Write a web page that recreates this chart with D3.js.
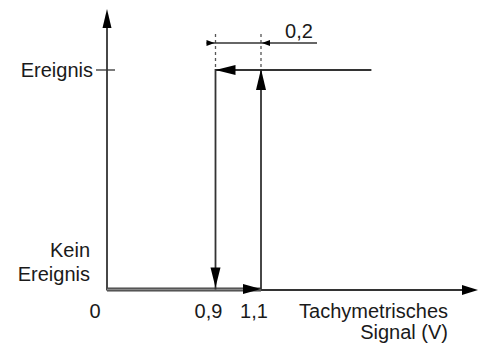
<!DOCTYPE html>
<html>
<head>
    <script src="https://d3js.org/d3.v7.min.js"></script>
    <title>Hysterese</title>
</head>
<style>
    body { margin: 0; background: white; }
    text { font-family: 'Liberation Sans', Arial, sans-serif; font-size: 20px; fill: #1a1a1a; }
</style>
<body>
<div id="chart"></div>
<script>
  // DATA
  var thresholds = [0.9, 1.1];          // switch-off / switch-on
  var xTickValues = [0, 0.9, 1.1];
  var xTickLabels = ["0", "0,9", "1,1"];
  var stateLabels = ["Kein Ereignis", "Ereignis"];
  var hystLabel = "0,2";
  var xTitle = ["Tachymetrisches", "Signal (V)"];

  // rising path (0 -> event at 1,1) and falling path (event -> off at 0,9)
  var risingPath = [
      {x: 0, s: 0},
      {x: 1.1, s: 0},
      {x: 1.1, s: 1}
  ];
  var fallingPath = [
      {x: 1.58, s: 1},
      {x: 0.9, s: 1},
      {x: 0.9, s: 0}
  ];

  var W = 479, H = 344;
  var svg = d3.select("#chart").append("svg")
      .attr("width", W)
      .attr("height", H);

  // schematic axis: piecewise scale
  var x = d3.scaleLinear()
      .domain([0, 0.9, 1.1, 2.0])
      .range([107, 215.5, 261, 468]);
  var y = d3.scaleLinear()
      .domain([0, 1])
      .range([289.5, 70]);

  var dark = "#333";

  // arrowhead helper: tip at (tx,ty), direction angle in deg
  function arrowHead(tx, ty, ang, len, half, fill) {
      var a = ang * Math.PI / 180;
      var bx = tx - len * Math.cos(a), by = ty - len * Math.sin(a);
      var px = -Math.sin(a) * half, py = Math.cos(a) * half;
      svg.append("path")
          .attr("d", "M" + tx + "," + ty + "L" + (bx + px) + "," + (by + py) +
                "L" + (bx - px) + "," + (by - py) + "Z")
          .attr("fill", fill || "#000");
  }

  var line = d3.line()
      .x(function(d) { return x(d.x); })
      .y(function(d) { return y(d.s); });

  //AXES
  svg.append("line")
      .attr("x1", x(0)).attr("y1", y(0) + 1)
      .attr("x2", x(0)).attr("y2", 20)
      .attr("stroke", dark).attr("stroke-width", 1.8);
  arrowHead(x(0), 9, -90, 19, 4.5);

  svg.append("line")
      .attr("x1", x(0)).attr("y1", y(0) + 0.5)
      .attr("x2", 468).attr("y2", y(0) + 0.5)
      .attr("stroke", dark).attr("stroke-width", 1.8);
  arrowHead(478, y(0) + 0.5, 0, 16, 5);

  // tick at "Ereignis"
  svg.append("line")
      .attr("x1", x(0) - 11).attr("x2", x(0) + 8)
      .attr("y1", y(1)).attr("y2", y(1))
      .attr("stroke", dark).attr("stroke-width", 1.3);

  //HYSTERESIS PATHS
  // thick bottom segment of rising path
  svg.append("path")
      .attr("d", line(risingPath.slice(0, 2)))
      .attr("fill", "none").attr("stroke", "#444").attr("stroke-width", 4);
  svg.append("path")
      .attr("d", line(risingPath.slice(0, 2)))
      .attr("fill", "none").attr("stroke", "#888").attr("stroke-width", 1.5);
  svg.append("path")
      .attr("d", line(risingPath.slice(1)))
      .attr("fill", "none").attr("stroke", dark).attr("stroke-width", 1.8);
  svg.append("path")
      .attr("d", line(fallingPath))
      .attr("fill", "none").attr("stroke", dark).attr("stroke-width", 1.8);

  arrowHead(x(1.1), y(0) - 0.5, 0, 18, 5);
  arrowHead(x(1.1), y(1) - 1, -90, 21, 5);
  arrowHead(x(0.9), y(1), 180, 20, 5);
  arrowHead(x(0.9), y(0) - 2, 90, 20, 5);

  //DIMENSION "0,2"
  thresholds.forEach(function(t) {
      svg.append("line")
          .attr("x1", x(t)).attr("x2", x(t))
          .attr("y1", 34).attr("y2", y(1) - 2)
          .attr("stroke", "#555").attr("stroke-width", 1.3)
          .attr("stroke-dasharray", "3,3");
  });
  var dimY = 43;
  svg.append("line")
      .attr("x1", x(0.9) - 9).attr("x2", 317)
      .attr("y1", dimY).attr("y2", dimY)
      .attr("stroke", dark).attr("stroke-width", 1.3);
  arrowHead(x(0.9) - 1, dimY, 0, 8, 3);
  arrowHead(x(1.1) + 1, dimY, 180, 8, 3);
  svg.append("text")
      .attr("x", 299).attr("y", 38)
      .attr("text-anchor", "middle")
      .text(hystLabel);

  //LABELS
  svg.append("text")
      .attr("x", 93).attr("y", y(1) + 7)
      .attr("text-anchor", "end")
      .text(stateLabels[1]);

  var kein = stateLabels[0].split(" ");
  svg.append("text")
      .attr("x", 90).attr("y", 257)
      .attr("text-anchor", "end")
      .text(kein[0]);
  svg.append("text")
      .attr("x", 90).attr("y", 281)
      .attr("text-anchor", "end")
      .text(kein[1]);

  svg.selectAll("text.xtick")
      .data(xTickValues)
      .enter()
      .append("text")
      .attr("class", "xtick")
      .attr("x", function(d, i) { return x(d) - (i === 0 ? 12 : 7); })
      .attr("y", 318)
      .attr("text-anchor", "middle")
      .text(function(d, i) { return xTickLabels[i]; });

  svg.append("text")
      .attr("x", 448).attr("y", 318)
      .attr("text-anchor", "end")
      .text(xTitle[0]);
  svg.append("text")
      .attr("x", 448).attr("y", 339)
      .attr("text-anchor", "end")
      .text(xTitle[1]);
</script>
</body>
</html>
